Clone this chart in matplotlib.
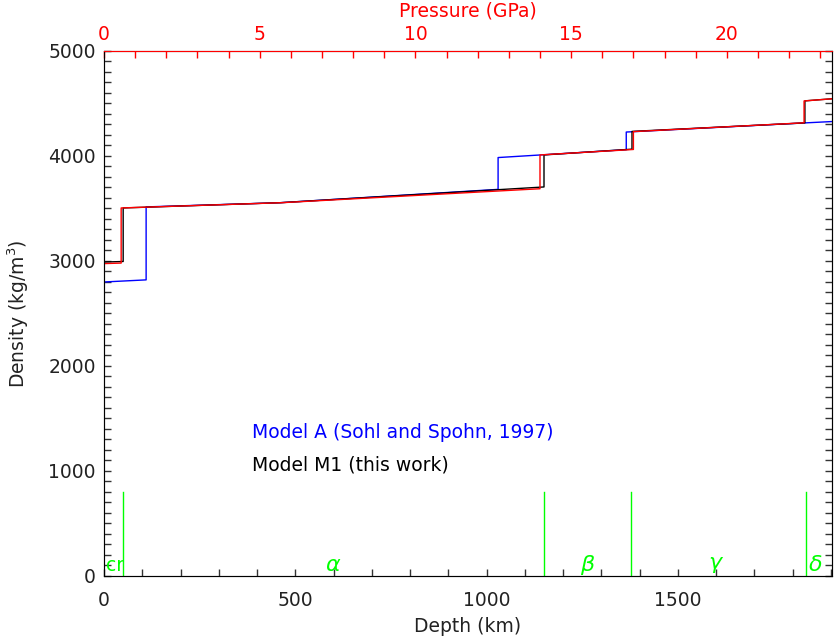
import matplotlib.pyplot as plt
from matplotlib.ticker import MultipleLocator

# Model A (Sohl and Spohn, 1997): depth [km], density [kg/m3]
depth_A = [0, 110, 110, 460, 1030, 1030, 1365, 1365, 1832, 1903]
dens_A = [2800, 2820, 3515, 3555, 3682, 3985, 4060, 4228, 4315, 4328]

# Model M1 (this work) vs depth
depth_M1 = [0, 50, 50, 460, 1150, 1150, 1380, 1380, 1832, 1832, 1903]
dens_M1 = [2990, 2995, 3505, 3555, 3705, 4010, 4065, 4234, 4315, 4525, 4545]

# Model M1 vs pressure [GPa]
pres_M1 = [0, 0.55, 0.55, 5.7, 14.0, 14.0, 17.0, 17.0, 22.48, 22.48, 23.4]
dens_M1p = [2975, 2980, 3505, 3555, 3688, 4010, 4062, 4232, 4316, 4524, 4545]

# layer boundaries and labels
bounds = [50, 1150, 1377, 1835]
layer_names = ['cr', r'$\alpha$', r'$\beta$', r'$\gamma$', r'$\delta$']
layer_x = [28, 600, 1265, 1600, 1858]
layer_fs = [13.5, 16, 16, 16, 16]

plt.rcParams['font.family'] = 'DejaVu Sans'
plt.rcParams['font.size'] = 13.5
txt = '#222222'

fig = plt.figure(figsize=(8.35, 6.38), dpi=100)
ax = fig.add_axes([0.1246, 0.0972, 0.8719, 0.8229])

ax.plot(depth_A, dens_A, color='blue', lw=1)
ax.plot(depth_M1, dens_M1, color='black', lw=1)
for b in bounds:
    ax.plot([b, b], [0, 800], color='#00ff00', lw=1)
for name, xx, fs in zip(layer_names, layer_x, layer_fs):
    ax.text(xx, 100, name, color='#00ff00', ha='center', va='center', fontsize=fs)

ax.text(387, 1371, 'Model A (Sohl and Spohn, 1997)', color='blue', va='center')
ax.text(387, 1057, 'Model M1 (this work)', color='black', va='center')

ax.set_xlim(0, 1903)
ax.set_ylim(0, 5000)
ax.xaxis.set_major_locator(MultipleLocator(500))
ax.xaxis.set_minor_locator(MultipleLocator(100))
ax.yaxis.set_major_locator(MultipleLocator(1000))
ax.yaxis.set_minor_locator(MultipleLocator(100))
ax.tick_params(which='both', direction='in', length=5, width=1, right=True, top=False,
               colors='#333333', labelcolor=txt)
ax.tick_params(axis='x', pad=11)
ax.tick_params(axis='y', pad=6)
ax.set_xlabel('Depth (km)', color=txt, labelpad=5)
ax.set_ylabel('Density (kg/m$^3$)', color=txt, labelpad=12)
for s in ['left', 'bottom', 'right']:
    ax.spines[s].set_color('#555555')

ax2 = ax.twiny()
ax2.plot(pres_M1, dens_M1p, color='red', lw=1)
ax2.set_xlim(0, 23.38)
ax2.xaxis.set_major_locator(MultipleLocator(5))
ax2.xaxis.set_minor_locator(MultipleLocator(1))
ax2.tick_params(which='both', direction='in', length=5, width=1, colors='red', pad=5)
ax2.spines['top'].set_color('red')
ax2.set_xlabel('Pressure (GPa)', color='red', labelpad=6)

fig.savefig('out.png', dpi=100)
